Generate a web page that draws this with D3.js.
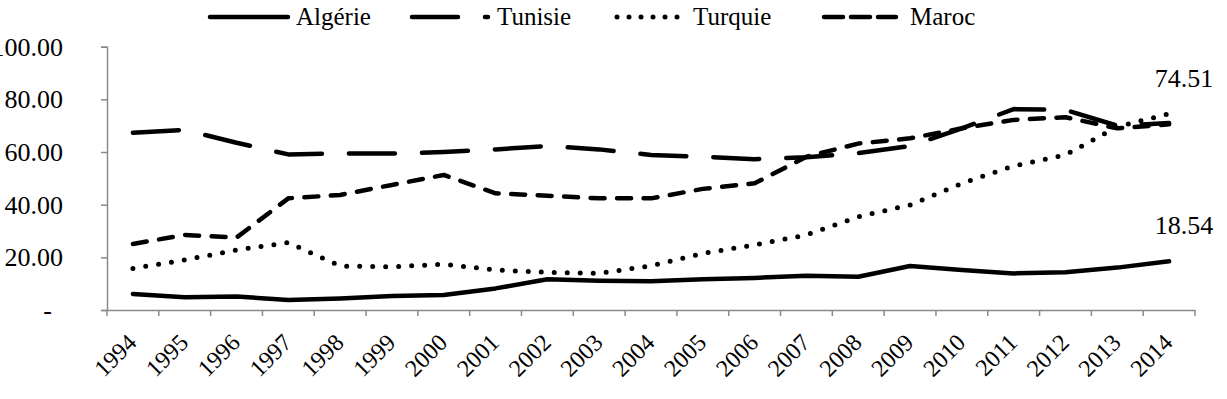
<!DOCTYPE html>
<html>
<head>
<meta charset="utf-8">
<script src="https://cdn.jsdelivr.net/npm/d3@7"></script>
<style>
  html, body { margin: 0; padding: 0; background: #fff; }
  svg { display: block; }
</style>
</head>
<body>
<svg id="chart" width="1227" height="399"></svg>
<script>
const years = ["1994","1995","1996","1997","1998","1999","2000","2001","2002","2003","2004",
               "2005","2006","2007","2008","2009","2010","2011","2012","2013","2014"];
const algerie = [6.1, 4.8, 5.1, 3.8, 4.4, 5.3, 5.7, 8.2, 11.7, 11.1, 10.9,
                 11.7, 12.2, 13.0, 12.6, 16.7, 15.2, 13.9, 14.3, 16.1, 18.54];
const tunisie = [67.3, 68.4, 63.5, 59.1, 59.5, 59.4, 60.0, 61.0, 62.3, 61.0, 58.9,
                 58.2, 57.3, 58.0, 59.6, 62.3, 69.0, 76.3, 76.0, 70.0, 71.0];
const turquie = [15.8, 19.0, 22.8, 25.6, 16.7, 16.4, 17.4, 15.2, 14.3, 13.9, 16.8,
                 21.5, 24.7, 28.5, 35.4, 39.9, 48.1, 54.7, 58.9, 69.6, 74.51];
const maroc   = [25.1, 28.5, 27.5, 42.4, 43.7, 47.5, 51.3, 44.3, 43.4, 42.4, 42.4,
                 46.0, 48.1, 58.2, 63.2, 65.2, 69.0, 72.2, 73.2, 69.0, 70.5];
const seriesNames = ["Algérie", "Tunisie", "Turquie", "Maroc"];
const yTickValues = [0, 20, 40, 60, 80, 100];
const yTickLabels = ["-", "20.00", "40.00", "60.00", "80.00", "100.00"];
const endLabels = ["18.54", "74.51"];

const seriesData = [algerie, tunisie, turquie, maroc];
const dashes = [null, "46,27", "0,13", "14,12.5"];

const FONT = "'Liberation Serif', 'Times New Roman', Times, serif";
const svg = d3.select("#chart").attr("font-family", FONT);
const axisColor = "#8a8a8a";

const x = d3.scaleBand().domain(years).range([107, 1195]).padding(0);
const y = d3.scaleLinear().domain([0, 100]).range([310, 46.7]);
const cx = d => x(d) + x.bandwidth() / 2;

// Y axis
const yAxis = svg.append("g")
  .attr("transform", "translate(107,0)")
  .call(d3.axisLeft(y).tickValues(yTickValues)
        .tickFormat((d, i) => yTickLabels[i]).tickSize(6).tickPadding(38));
yAxis.attr("font-family", FONT).attr("font-size", 26);
yAxis.select(".domain").attr("stroke", axisColor).attr("stroke-width", 1.5);
yAxis.selectAll(".tick line").attr("stroke", axisColor).attr("stroke-width", 1.5);
yAxis.selectAll(".tick text")
  .attr("font-family", FONT)
  .attr("font-size", 26)
  .attr("fill", "#000")
  .attr("dx", (d) => d === 0 ? -11 : 0);

// X axis
const xAxis = svg.append("g")
  .attr("transform", "translate(0,310)")
  .call(d3.axisBottom(x).tickSize(0).tickFormat(""));
xAxis.select(".domain").attr("stroke", axisColor).attr("stroke-width", 1.5);
xAxis.selectAll(".tick").remove();
const bounds = years.map(d => x(d)).concat([x(years[years.length - 1]) + x.bandwidth()]);
xAxis.selectAll("line.bt").data(bounds).enter().append("line")
  .attr("class", "bt")
  .attr("x1", d => d).attr("x2", d => d)
  .attr("y1", 0).attr("y2", 6)
  .attr("stroke", axisColor).attr("stroke-width", 1.5);
svg.append("g").attr("font-family", FONT).selectAll("text").data(years).enter().append("text")
  .attr("transform", d => `translate(${cx(d) + 5},${344}) rotate(-45)`)
  .attr("text-anchor", "end")
  .attr("font-size", 24)
  .attr("fill", "#000")
  .text(d => d);

// Lines
const line = d3.line().x((d, i) => cx(years[i])).y(d => y(d));
seriesData.forEach((s, k) => {
  const p = svg.append("path")
    .datum(s)
    .attr("d", line)
    .attr("fill", "none")
    .attr("stroke", "#000")
    .attr("stroke-width", k === 2 ? 5 : 4.5)
    .attr("stroke-linecap", "round")
    .attr("stroke-linejoin", "round");
  if (dashes[k]) p.attr("stroke-dasharray", dashes[k]);
});

// End labels
const last = years[years.length - 1];
[[algerie, endLabels[0]], [turquie, endLabels[1]]].forEach(([s, lab]) => {
  svg.append("text")
    .attr("x", cx(last) + 15)
    .attr("y", y(s[s.length - 1]) - 27)
    .attr("text-anchor", "middle")
    .attr("font-family", FONT)
    .attr("font-size", 26)
    .attr("fill", "#000")
    .text(lab);
});

// Legend
const legendStarts = [208, 410, 615, 822];
const legendEnds = [288, 488, 682, 896];
const legendTextX = [296, 497, 693, 910];
const legend = svg.append("g");
seriesNames.forEach((name, k) => {
  const l = legend.append("line")
    .attr("x1", legendStarts[k] + 2).attr("x2", legendEnds[k])
    .attr("y1", 17).attr("y2", 17)
    .attr("stroke", "#000")
    .attr("stroke-width", k === 2 ? 5 : 4.5)
    .attr("stroke-linecap", "round");
  if (dashes[k]) l.attr("stroke-dasharray", k === 2 ? "0,12" : (k === 3 ? "19,8" : dashes[k]));
  legend.append("text")
    .attr("x", legendTextX[k])
    .attr("y", 25)
    .attr("font-family", FONT)
    .attr("font-size", 25)
    .attr("fill", "#000")
    .text(name);
});
</script>
</body>
</html>
